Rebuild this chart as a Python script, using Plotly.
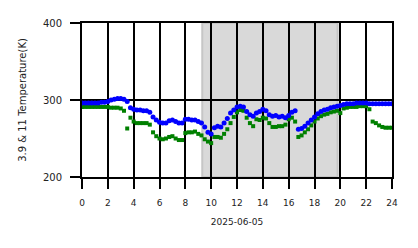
import plotly.graph_objects as go

hours = [i * 0.25 for i in range(97)]

bt39 = [296, 296, 296, 296, 296, 296, 297, 297, 298, 300, 301, 302, 302, 301, 298, 290,
        288, 287, 287, 286, 286, 284, 278, 274, 271, 270, 270, 273, 274, 272, 270, 270,
        275, 275, 274, 274, 272, 270, 265, 258, 256, 264, 266, 265, 270, 276, 283, 287,
        291, 292, 291, 285, 281, 279, 283, 285, 288, 286, 281, 279, 280, 278, 279, 277,
        280, 284, 286, 262, 263, 266, 270, 274, 278, 282, 285, 287, 288, 290, 291, 292,
        293, 294, 295, 295, 295, 296, 296, 296, 296, 295, 295, 295, 295, 295, 295, 295, 295]

bt11 = [291, 291, 291, 291, 291, 291, 291, 291, 291, 290, 290, 290, 289, 286, 263, 277,
        272, 270, 270, 270, 270, 268, 258, 253, 250, 249, 250, 252, 253, 250, 248, 248,
        257, 258, 258, 259, 256, 254, 249, 246, 244, 252, 252, 251, 256, 262, 270, 278,
        284, 287, 286, 277, 270, 266, 275, 274, 277, 276, 270, 265, 265, 266, 266, 268,
        275, 277, 272, 252, 254, 258, 262, 267, 272, 276, 279, 281, 282, 284, 285, 286,
        283, 289, 290, 291, 291, 291, 292, 292, 292, 288, 272, 270, 267, 265, 264, 264, 264]

shade_start, shade_end = 9.31, 19.79
x_ticks = list(range(0, 25, 2))
y_ticks = [200, 300, 400]

fig = go.Figure()
fig.add_shape(type="rect", xref="x", yref="y", x0=shade_start, x1=shade_end, y0=200, y1=400,
              fillcolor="#d9d9d9", line=dict(color="#c6c6c6", width=2), layer="below")
fig.add_trace(go.Scatter(x=hours, y=bt11, mode="markers",
                         marker=dict(symbol="square", size=4, color="#008000"), name="11"))
fig.add_trace(go.Scatter(x=hours, y=bt39, mode="markers",
                         marker=dict(symbol="circle", size=5, color="#0000ff"), name="3.9"))

axis_common = dict(showgrid=True, gridcolor="black", gridwidth=2, zeroline=False,
                   ticks="outside", ticklen=10, tickwidth=2, tickcolor="black",
                   showline=True, mirror=True, linecolor="black", linewidth=2)
fig.update_xaxes(range=[0, 24], tickvals=x_ticks, ticktext=[str(v) for v in x_ticks],
                 tickfont=dict(size=9, color="#222"), ticklabelstandoff=6,
                 title=dict(text="2025-06-05", font=dict(size=9, color="#222"), standoff=12),
                 **axis_common)
fig.update_yaxes(range=[200, 400], tickvals=y_ticks, tickfont=dict(size=10, color="#222"),
                 ticklabelstandoff=6,
                 title=dict(text="3.9 &amp; 11 Temperature(K)", font=dict(size=10, color="#222"), standoff=14),
                 **axis_common)
fig.update_layout(width=418, height=248, margin=dict(l=82, r=26, t=23, b=71),
                  paper_bgcolor="white", plot_bgcolor="white", showlegend=False,
                  font=dict(family="DejaVu Sans"))
fig.write_html("out.html")
